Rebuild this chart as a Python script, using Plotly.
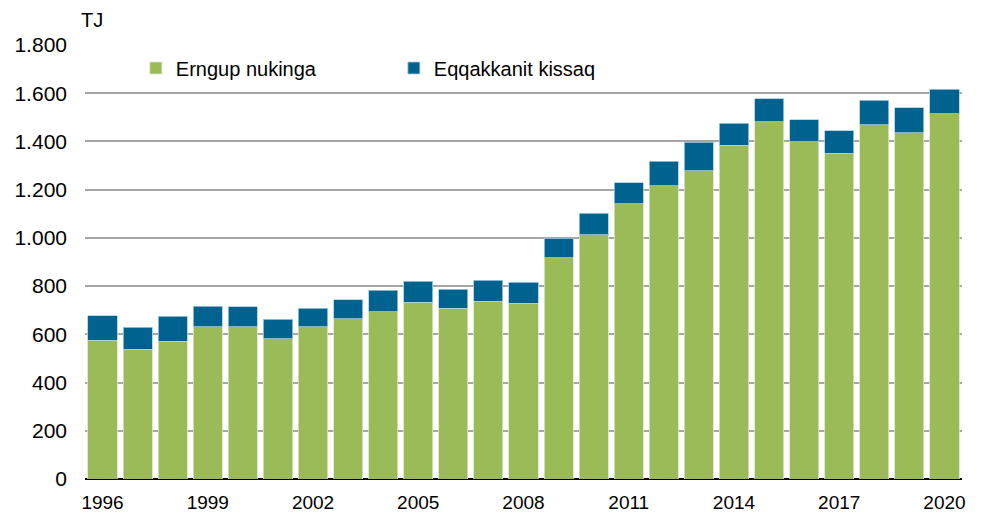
import plotly.graph_objects as go

# Données (TJ)
years = list(range(1996, 2021))
erngup = [575, 539, 571, 632, 632, 582, 632, 665, 693, 733, 708, 737, 729,
          917, 1013, 1141, 1217, 1279, 1385, 1482, 1398, 1351, 1469, 1436, 1514]
eqqakkanit = [102, 91, 104, 85, 83, 80, 76, 79, 89, 87, 79, 87, 87,
              81, 89, 88, 101, 118, 90, 95, 91, 94, 102, 104, 102]
series_names = ["Erngup nukinga", "Eqqakkanit kissaq"]

font = "Liberation Sans, Arial, sans-serif"

fig = go.Figure()
fig.add_trace(go.Bar(x=years, y=erngup, name=series_names[0],
                     marker=dict(color="#9BBB59", line=dict(color="#d9e6c4", width=0.8))))
fig.add_trace(go.Bar(x=years, y=eqqakkanit, name=series_names[1],
                     marker=dict(color="#00628F", line=dict(color="#a9cbe0", width=0.8))))

# la page ajoute ~8 px de marge au body : on compense dans la taille et les marges
fig.update_layout(
    barmode="stack",
    bargap=0.17,
    width=975, height=505,
    margin=dict(l=77, r=21, t=37, b=34),
    plot_bgcolor="white", paper_bgcolor="white",
    separators=",.",
    font=dict(family=font, size=20, color="#000000"),
    legend=dict(orientation="h", traceorder="normal",
                x=0.058, y=0.947, xanchor="left", yanchor="middle",
                font=dict(size=20), entrywidth=213, itemwidth=30,
                bgcolor="rgba(0,0,0,0)"),
    annotations=[dict(text="TJ", x=-0.007, y=1.058, xref="paper", yref="paper",
                      xanchor="left", yanchor="middle", showarrow=False,
                      font=dict(size=20))],
)
fig.update_xaxes(range=[1995.5, 2020.5], tickmode="linear", tick0=1996, dtick=3,
                 showgrid=False, ticks="", automargin=False,
                 ticklabelstandoff=10, tickfont=dict(size=19))
fig.update_yaxes(range=[0, 1800], dtick=200, tickformat=",d", automargin=False,
                 showgrid=True, gridcolor="#A6A6A6", gridwidth=2,
                 zeroline=True, zerolinecolor="#000000", zerolinewidth=2,
                 ticks="", ticklabelstandoff=17, tickfont=dict(size=21))

fig.write_html("out.html")
